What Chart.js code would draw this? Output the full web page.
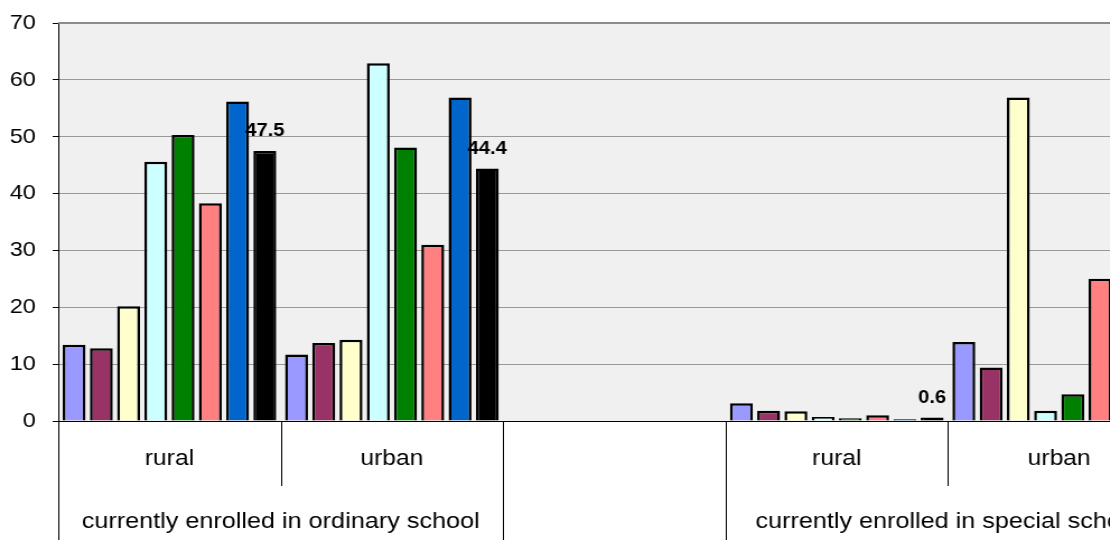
<!DOCTYPE html>
<html lang="en">
<head>
  <meta charset="UTF-8">
  <title>Enrolment by type</title>
  <style>
    html, body {
      margin: 0;
      padding: 0;
      background: #fff;
      overflow: hidden;
    }
    #wrap {
      width: 1046px;
      height: 540px;
      transform: scaleX(1.12);
      transform-origin: 0 0;
    }
  </style>
</head>
<body>
  <div id="wrap">
    <canvas id="chart" width="1046" height="540"></canvas>
  </div>

  <script src="https://cdn.jsdelivr.net/npm/chart.js"></script>
  <script>
    // categories (inner level) and the outer groups they belong to
    const categories = ['rural', 'urban', '', 'rural', 'urban'];
    const groupLabels = ['currently enrolled in ordinary school', '', 'currently enrolled in special school'];
    const groupSpans = [2, 1, 2];

    const yTicks = [0, 10, 20, 30, 40, 50, 60, 70];

    // one array per series (null = no bar / not visible)
    const series1 = [13.4, 11.7, null, 3.1, 13.9];
    const series2 = [12.8, 13.7, null, 1.8, 9.4];
    const series3 = [20.2, 14.3, null, 1.7, 56.9];
    const series4 = [45.6, 62.9, null, 0.7, 1.8];
    const series5 = [50.3, 48.1, null, 0.5, 4.7];
    const series6 = [38.3, 31.0, null, 1.0, 25.0];
    const series7 = [56.2, 56.9, null, 0.3, null];
    const series8 = [47.5, 44.4, null, 0.6, null];

    const seriesData = [series1, series2, series3, series4, series5, series6, series7, series8];
    const seriesColors = ['#9999FF', '#993366', '#FFFFCC', '#CCFFFF', '#008000', '#FF8080', '#0066CC', '#000000'];
    const labelledSeries = 7; // the black series carries value labels

    const FONT = '"Liberation Sans", Arial, sans-serif';

    // grey plot area behind the grid
    const plotBg = {
      id: 'plotBg',
      beforeDraw(chart) {
        const { ctx, chartArea: a } = chart;
        ctx.save();
        ctx.fillStyle = '#F0F0F0';
        ctx.fillRect(a.left, a.top, a.right - a.left, a.bottom - a.top);
        ctx.restore();
      },
      afterDraw(chart) {
        const { ctx, chartArea: a } = chart;
        ctx.save();
        ctx.strokeStyle = '#8C8C8C';
        ctx.lineWidth = 2;
        ctx.beginPath();
        ctx.moveTo(a.left, a.top);
        ctx.lineTo(a.right, a.top);
        ctx.stroke();
        ctx.restore();
      }
    };

    // two-level category axis: inner labels, outer group labels, divider lines
    const multiLevelAxis = {
      id: 'multiLevelAxis',
      afterDraw(chart) {
        const { ctx, chartArea: a } = chart;
        const xs = chart.scales.x;
        const w = xs.getPixelForValue(1) - xs.getPixelForValue(0);
        const left = xs.getPixelForValue(0) - w / 2;
        const bottom = chart.height;

        ctx.save();
        ctx.fillStyle = '#000';
        ctx.textAlign = 'center';
        ctx.textBaseline = 'middle';
        ctx.font = '22px ' + FONT;

        categories.forEach((c, i) => {
          if (c) ctx.fillText(c, xs.getPixelForValue(i), a.bottom + 38);
        });

        // which boundaries are group boundaries
        const groupEdges = new Set([0]);
        let acc = 0;
        groupSpans.forEach(s => { acc += s; groupEdges.add(acc); });

        ctx.strokeStyle = '#000';
        ctx.lineWidth = 1;
        for (let i = 0; i <= categories.length; i++) {
          const x = Math.round(left + i * w) + 0.5;
          const y2 = groupEdges.has(i) ? bottom : a.bottom + 65;
          ctx.beginPath();
          ctx.moveTo(x, a.bottom);
          ctx.lineTo(x, y2);
          ctx.stroke();
        }

        ctx.font = '22.5px ' + FONT;
        let start = 0;
        groupLabels.forEach((g, k) => {
          const cx = left + (start + groupSpans[k] / 2) * w;
          if (g) ctx.fillText(g, cx, a.bottom + 101);
          start += groupSpans[k];
        });
        ctx.restore();
      }
    };

    // value labels above the black bars
    const valueLabels = {
      id: 'valueLabels',
      afterDatasetsDraw(chart) {
        const { ctx } = chart;
        const meta = chart.getDatasetMeta(labelledSeries);
        ctx.save();
        ctx.fillStyle = '#000';
        ctx.font = 'bold 18px ' + FONT;
        ctx.textAlign = 'center';
        ctx.textBaseline = 'bottom';
        meta.data.forEach((bar, i) => {
          const v = seriesData[labelledSeries][i];
          if (v === null) return;
          ctx.fillText(v.toFixed(1), bar.x, bar.y - 11);
        });
        ctx.restore();
      }
    };

    const datasets = seriesData.map((d, i) => ({
      label: 'series ' + (i + 1),
      data: d,
      backgroundColor: seriesColors[i],
      borderColor: '#000',
      borderWidth: 2.5,
      categoryPercentage: 0.98,
      barPercentage: 0.84
    }));

    new Chart(document.getElementById('chart'), {
      type: 'bar',
      data: { labels: categories, datasets: datasets },
      options: {
        responsive: false,
        animation: false,
        devicePixelRatio: 1,
        layout: { padding: { top: 23, right: 1, left: 0, bottom: 0 } },
        plugins: {
          legend: { display: false },
          tooltip: { enabled: false },
          title: { display: false }
        },
        scales: {
          x: {
            grid: { display: false },
            ticks: { display: false },
            border: { color: '#000', width: 1 },
            afterFit(s) { s.height = 119; }
          },
          y: {
            min: yTicks[0],
            max: yTicks[yTicks.length - 1],
            afterBuildTicks(s) { s.ticks = yTicks.map(v => ({ value: v })); },
            ticks: {
              color: '#000',
              font: { family: FONT, size: 21 },
              padding: 15
            },
            grid: {
              color: '#999999',
              tickColor: '#000',
              tickLength: 5
            },
            border: { color: '#000', width: 1 },
            afterFit(s) {
              s.width = 52;
              // label padding would otherwise push the plot top down
              s.paddingTop = 12;
              s.paddingBottom = 12;
            }
          }
        }
      },
      plugins: [plotBg, multiLevelAxis, valueLabels]
    });
  </script>
</body>
</html>
